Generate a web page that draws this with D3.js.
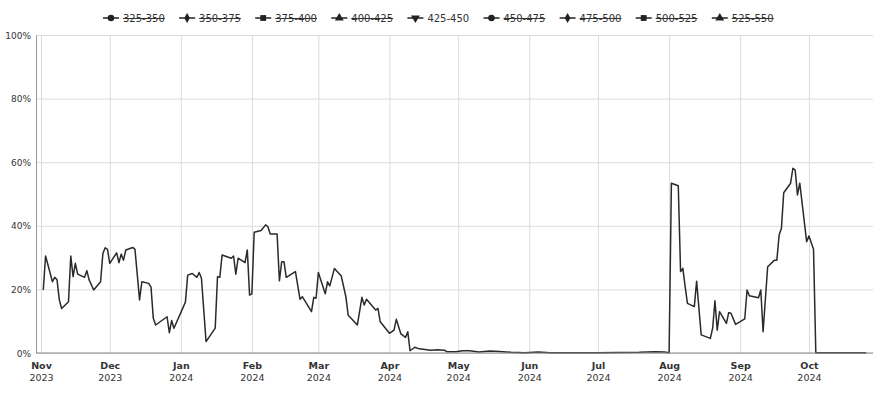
<!DOCTYPE html>
<html>
<head>
<meta charset="utf-8">
<script src="https://cdn.jsdelivr.net/npm/d3@7"></script>
<style>
  body { margin: 0; background: #fff; }
  text { font-family: "DejaVu Sans", sans-serif; fill: #333; }
</style>
</head>
<body>
<svg id="chart" width="873" height="396"></svg>
<script>
// legend entries (only 425-450 is shown, the rest are switched off)
var bands = ["325-350", "350-375", "375-400", "400-425", "425-450",
             "450-475", "475-500", "500-525", "525-550"];
var bandHidden = [true, true, true, true, false, true, true, true, true];

var yTicks = [0, 20, 40, 60, 80, 100];

// share (%) of the 425-450 band
var dates = [
  "2023-11-02", "2023-11-03", "2023-11-06", "2023-11-07", "2023-11-08", "2023-11-09", "2023-11-10",
  "2023-11-13", "2023-11-14", "2023-11-15", "2023-11-16", "2023-11-17", "2023-11-20", "2023-11-21",
  "2023-11-22", "2023-11-24", "2023-11-27", "2023-11-28", "2023-11-29", "2023-11-30", "2023-12-01",
  "2023-12-04", "2023-12-05", "2023-12-06", "2023-12-07", "2023-12-08", "2023-12-11", "2023-12-12",
  "2023-12-14", "2023-12-15", "2023-12-18", "2023-12-19", "2023-12-20", "2023-12-21", "2023-12-26",
  "2023-12-27", "2023-12-28", "2023-12-29", "2024-01-03", "2024-01-04", "2024-01-06", "2024-01-08",
  "2024-01-09", "2024-01-10", "2024-01-12", "2024-01-16", "2024-01-17", "2024-01-18", "2024-01-19",
  "2024-01-23", "2024-01-24", "2024-01-25", "2024-01-26", "2024-01-29", "2024-01-30", "2024-01-31",
  "2024-02-01", "2024-02-02", "2024-02-05", "2024-02-07", "2024-02-08", "2024-02-09", "2024-02-12",
  "2024-02-13", "2024-02-14", "2024-02-15", "2024-02-16", "2024-02-20", "2024-02-22", "2024-02-23",
  "2024-02-27", "2024-02-28", "2024-02-29", "2024-03-01", "2024-03-04", "2024-03-05", "2024-03-06",
  "2024-03-08", "2024-03-11", "2024-03-13", "2024-03-14", "2024-03-16", "2024-03-18", "2024-03-20",
  "2024-03-21", "2024-03-22", "2024-03-26", "2024-03-27", "2024-03-28", "2024-04-01", "2024-04-03",
  "2024-04-04", "2024-04-06", "2024-04-08", "2024-04-09", "2024-04-10", "2024-04-12", "2024-04-14",
  "2024-04-19", "2024-04-22", "2024-04-25", "2024-04-26", "2024-04-30", "2024-05-03", "2024-05-06",
  "2024-05-10", "2024-05-15", "2024-05-19", "2024-05-24", "2024-05-30", "2024-06-05", "2024-06-10",
  "2024-07-01", "2024-07-19", "2024-07-26", "2024-07-30", "2024-08-01", "2024-08-02", "2024-08-05",
  "2024-08-06", "2024-08-07", "2024-08-08", "2024-08-09", "2024-08-12", "2024-08-13", "2024-08-15",
  "2024-08-19", "2024-08-20", "2024-08-21", "2024-08-22", "2024-08-23", "2024-08-26", "2024-08-27",
  "2024-08-28", "2024-08-30", "2024-09-03", "2024-09-04", "2024-09-05", "2024-09-09", "2024-09-10",
  "2024-09-11", "2024-09-13", "2024-09-16", "2024-09-17", "2024-09-18", "2024-09-19", "2024-09-20",
  "2024-09-23", "2024-09-24", "2024-09-25", "2024-09-26", "2024-09-27", "2024-09-30", "2024-10-01",
  "2024-10-03", "2024-10-04", "2024-10-26"
];
var shares = [
  19.8, 30.5, 22.4, 23.8, 23.0, 16.7, 14.0,
  16.1, 30.5, 24.0, 28.2, 24.8, 23.8, 25.9,
  23.0, 19.8, 22.4, 31.3, 33.1, 32.6, 28.2,
  31.5, 28.4, 31.1, 29.2, 32.4, 33.2, 32.6,
  16.7, 22.4, 21.9, 20.7, 10.9, 8.8, 11.4,
  6.4, 10.2, 7.8, 16.0, 24.5, 25.0, 23.8,
  25.3, 23.5, 3.6, 7.8, 24.0, 23.8, 30.8,
  29.8, 30.5, 24.8, 29.8, 28.4, 32.4, 18.2,
  18.6, 38.0, 38.5, 40.3, 39.7, 37.4, 37.4,
  22.7, 28.7, 28.7, 23.8, 25.6, 16.9, 17.7,
  13.0, 17.5, 17.2, 25.3, 18.6, 22.4, 21.1,
  26.6, 24.2, 17.7, 11.9, 10.4, 8.8, 17.5,
  15.1, 16.9, 13.5, 14.0, 9.8, 6.2, 7.2,
  10.6, 6.0, 4.9, 6.7, 0.7, 1.8, 1.3,
  0.9, 1.0, 0.9, 0.4, 0.4, 0.7, 0.7,
  0.3, 0.6, 0.5, 0.2, 0.1, 0.3, 0.1,
  0.1, 0.2, 0.4, 0.3, 0.1, 53.4, 52.6,
  25.6, 26.6, 20.9, 15.6, 14.6, 22.6, 5.7,
  4.6, 7.8, 16.4, 7.2, 13.0, 9.3, 12.7,
  12.5, 9.0, 10.7, 19.8, 18.0, 17.4, 19.8,
  6.7, 27.1, 29.2, 29.2, 37.1, 39.2, 50.4,
  53.4, 58.1, 57.5, 49.7, 53.4, 35.0, 36.8,
  32.6, 0.1, 0.1
];

var parseDate = d3.timeParse("%Y-%m-%d");
var points = dates.map(function(d, i) {
  return { date: parseDate(d), value: shares[i] };
});

var svg = d3.select("#chart");

var x = d3.scaleTime()
  .domain([parseDate("2023-10-30"), parseDate("2024-11-01")])
  .range([36.4, 880]);

var y = d3.scaleLinear()
  .domain([0, 100])
  .range([353, 35]);

var monthTicks = d3.timeMonth.range(parseDate("2023-11-01"), parseDate("2024-10-02"));

function drawGrid() {
  // horizontal grid
  svg.append("g")
    .attr("class", "y-grid")
    .attr("transform", "translate(36 0)")
    .call(d3.axisLeft(y).tickValues(yTicks).tickSize(-840).tickFormat(""))
    .call(function(g) { g.select(".domain").remove(); })
    .selectAll("line")
    .attr("stroke", "#dcdcdc");

  // vertical grid
  svg.append("g")
    .attr("class", "x-grid")
    .attr("transform", "translate(0 353)")
    .call(d3.axisBottom(x).tickValues(monthTicks).tickSize(-318).tickFormat(""))
    .call(function(g) { g.select(".domain").remove(); })
    .selectAll("line")
    .attr("stroke", "#dcdcdc");
}

function drawAxes() {
  var yAxis = svg.append("g")
    .attr("class", "y-axis")
    .attr("transform", "translate(36 0)")
    .call(d3.axisLeft(y).tickValues(yTicks).tickSize(0).tickPadding(5)
      .tickFormat(function(d) { return d + "%"; }));
  yAxis.select(".domain").attr("stroke", "#999");
  yAxis.selectAll("text")
    .style("font-size", "9px")
    .attr("dy", "0.35em");

  var xAxis = svg.append("g")
    .attr("class", "x-axis")
    .attr("transform", "translate(0 353)")
    .call(d3.axisBottom(x).tickValues(monthTicks).tickSize(0).tickFormat(""));
  xAxis.select(".domain")
    .attr("d", "M" + 36.4 + ",0H873")
    .attr("stroke", "#888");

  xAxis.selectAll(".tick").each(function(d) {
    var t = d3.select(this);
    t.append("text")
      .attr("y", 16)
      .attr("text-anchor", "middle")
      .style("font-size", "9.5px")
      .style("font-weight", "bold")
      .text(d3.timeFormat("%b")(d));
    t.append("text")
      .attr("y", 28)
      .attr("text-anchor", "middle")
      .style("font-size", "9.5px")
      .text(d3.timeFormat("%Y")(d));
  });
}

function drawLine() {
  svg.append("path")
    .datum(points)
    .attr("fill", "none")
    .attr("stroke", "#2a2a2a")
    .attr("stroke-width", 1.5)
    .attr("stroke-linejoin", "round")
    .attr("d", d3.line()
      .x(function(d) { return x(d.date); })
      .y(function(d) { return y(d.value); }));
}

function drawLegend() {
  var symbols = [d3.symbolCircle, d3.symbolDiamond, d3.symbolSquare, d3.symbolTriangle,
                 d3.symbolTriangle, d3.symbolCircle, d3.symbolDiamond, d3.symbolSquare,
                 d3.symbolTriangle];

  var item = svg.append("g")
    .attr("class", "legend")
    .selectAll("g")
    .data(bands)
    .enter()
    .append("g")
    .attr("transform", function(d, i) { return "translate(" + (111 + i * 76.1) + " 18)"; });

  item.append("line")
    .attr("x1", -8)
    .attr("x2", 8)
    .attr("stroke", "#222")
    .attr("stroke-width", 1.5);

  item.append("path")
    .attr("d", function(d, i) { return d3.symbol().type(symbols[i]).size(i == 1 || i == 6 ? 28 : 34)(); })
    .attr("transform", function(d, i) { return i == 4 ? "rotate(180)" : null; })
    .attr("fill", "#222");

  item.append("text")
    .attr("x", 12)
    .attr("dy", "0.35em")
    .style("font-size", "10px")
    .style("text-decoration", function(d, i) { return bandHidden[i] ? "line-through" : null; })
    .text(function(d) { return d; });
}

drawGrid();
drawLine();
drawAxes();
drawLegend();
</script>
</body>
</html>
